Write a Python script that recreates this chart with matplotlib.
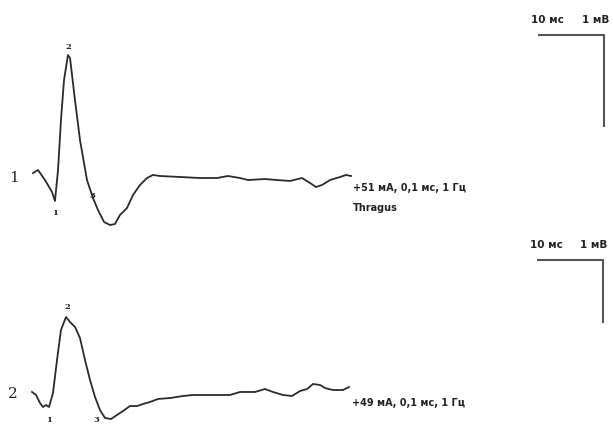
import matplotlib
matplotlib.use("Agg")
import matplotlib.pyplot as plt

# Evoked response 1 (time in ms, amplitude in mV)
t1 = [0, 0.76, 1.82, 2.88, 3.33, 3.79, 4.24, 4.70, 5.30, 5.61, 6.36, 7.12, 8.18,
      9.09, 9.85, 10.76, 11.67, 12.42, 13.18, 14.24, 15.15, 16.21, 17.27, 18.18,
      19.24, 22.27, 25.30, 27.88, 29.55, 31.36, 32.58, 35.15, 36.97, 38.94, 40.76,
      41.97, 42.88, 43.79, 45.0, 46.52, 47.42, 48.18]
v1 = [0.043, 0.076, -0.033, -0.163, -0.261, 0.076, 0.620, 1.054, 1.326, 1.293,
      0.837, 0.402, -0.033, -0.228, -0.359, -0.489, -0.522, -0.511, -0.413, -0.337,
      -0.196, -0.087, -0.011, 0.022, 0.011, 0.0, -0.011, -0.011, 0.011, -0.011,
      -0.033, -0.022, -0.033, -0.043, -0.011, -0.065, -0.109, -0.087, -0.033, 0.0,
      0.022, 0.011]

# Evoked response 2
t2 = [0, 0.61, 1.21, 1.67, 2.12, 2.58, 3.18, 3.79, 4.39, 5.15, 5.76, 6.52, 7.27,
      8.03, 8.79, 9.55, 10.30, 11.06, 11.97, 12.88, 13.79, 14.85, 15.91, 16.82,
      17.88, 19.09, 20.91, 22.88, 24.39, 25.91, 27.73, 30.0, 31.52, 33.79, 35.30,
      36.52, 38.03, 39.39, 40.61, 41.67, 42.58, 43.64, 44.39, 45.61, 47.12, 48.03]
v2 = [0.048, 0, -0.127, -0.190, -0.159, -0.190, 0.032, 0.556, 1.032, 1.238, 1.159,
      1.079, 0.905, 0.556, 0.238, -0.032, -0.238, -0.365, -0.381, -0.317, -0.254,
      -0.175, -0.175, -0.143, -0.111, -0.063, -0.048, -0.016, 0, 0, 0, 0, 0.048,
      0.048, 0.095, 0.048, 0, -0.016, 0.063, 0.095, 0.175, 0.159, 0.111, 0.079,
      0.079, 0.127]

trace_labels = ["1", "2"]
stim_labels = ["+51 мА, 0,1 мс, 1 Гц", "+49 мА, 0,1 мс, 1 Гц"]
site_label = "Thragus"
time_bar_label = "10 мс"
amp_bar_label = "1 мВ"
time_bar_ms = 10
amp_bar_mv = 1

W, H = 613, 424
fig = plt.figure(figsize=(W / 100, H / 100), dpi=100)
fig.patch.set_facecolor("white")

def px(x, y):
    return x / W, 1 - y / H

def make_axes(x0, y_base, px_per_ms, px_per_mv):
    ax = fig.add_axes([0, 0, 1, 1])
    ax.set_xlim(-x0 / px_per_ms, (W - x0) / px_per_ms)
    ax.set_ylim((y_base - H) / px_per_mv, y_base / px_per_mv)
    ax.axis("off")
    ax.patch.set_alpha(0)
    return ax

line_kw = dict(color="#2b2b2b", lw=1.3, solid_joinstyle="round")
bar_kw = dict(color="#555555", lw=1.5, solid_capstyle="butt")

panels = [
    dict(t=t1, v=v1, x0=33, y0=177, ppms=6.6, ppmv=92, bar_x=538, bar_y=35),
    dict(t=t2, v=v2, x0=32, y0=395, ppms=6.6, ppmv=63, bar_x=537, bar_y=260),
]

for p in panels:
    ax = make_axes(p["x0"], p["y0"], p["ppms"], p["ppmv"])
    ax.plot(p["t"], p["v"], **line_kw)
    bx = (p["bar_x"] - p["x0"]) / p["ppms"]
    by = (p["y0"] - p["bar_y"]) / p["ppmv"]
    ax.plot([bx, bx + time_bar_ms, bx + time_bar_ms],
            [by, by, by - amp_bar_mv], **bar_kw)

# Trace numbers
num = dict(fontsize=11, ha="center", va="center", color="#222", family="DejaVu Serif")
fig.text(*px(14, 178), trace_labels[0], **num)
fig.text(*px(13, 394), trace_labels[1], **num)

# Peak markers
small = dict(fontsize=6, fontweight="bold", ha="center", va="center", color="#222",
             family="DejaVu Serif")
for (x, y, s) in [(68, 47, "2"), (55, 213, "1"), (92, 196, "3"),
                  (67, 307, "2"), (49, 420, "1"), (96, 420, "3")]:
    fig.text(*px(x, y), s, **small)

# Stimulus parameters
stim = dict(fontsize=7, fontweight="bold", ha="left", va="center", color="#222")
fig.text(*px(353, 188), stim_labels[0], **stim)
fig.text(*px(353, 208), site_label, **stim)
fig.text(*px(352, 403), stim_labels[1], **stim)

# Calibration labels
cal = dict(fontsize=7.5, fontweight="bold", ha="left", va="center", color="#222")
fig.text(*px(531, 20), time_bar_label, **cal)
fig.text(*px(582, 20), amp_bar_label, **cal)
fig.text(*px(530, 245), time_bar_label, **cal)
fig.text(*px(580, 245), amp_bar_label, **cal)

fig.savefig("out.png", dpi=100, facecolor="white")
